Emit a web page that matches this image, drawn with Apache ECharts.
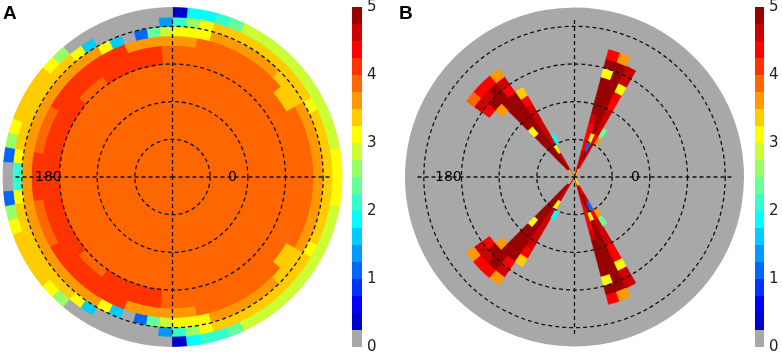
<!DOCTYPE html>
<html>
<head>
<meta charset="utf-8">
<script src="https://cdn.jsdelivr.net/npm/echarts@6/dist/echarts.min.js"></script>
<style>
html,body{margin:0;padding:0;background:#fff;}
#main{width:782px;height:358px;}
</style>
</head>
<body>
<div id="main"></div>
<script>
// colour scale 0..5 in 20 steps (jet), lowest step grey
var levelColors = ['#a8a8a8','#0000cc','#0000ff','#0033ff','#0066ff','#0099ff','#00ccff','#00ffff','#33ffcc','#66ff99',
                   '#99ff66','#ccff33','#ffff00','#ffcc00','#ff9900','#ff6600','#ff3300','#ff0000','#cc0000','#990000'];
var levelStep = 0.25;
var colorbarMax = 5;

// panel A : 72 angle bins (5 deg, counter-clockwise from 0), 18 rings
// rings 0..11 are the same all round
var coreA = [3.9,3.9,3.9,3.9,3.9,3.9,3.9,3.9,3.9,3.9,3.9,3.9];
var ringA12 = [3.9,3.9,3.9,3.9,3.9,3.9,3.9,3.9,3.9,3.9,3.9,3.9,3.9,3.9,3.9,3.9,3.9,3.9,3.9,
  4.1,4.1,4.1,4.1,4.1,4.1,3.9,3.9,3.9,4.1,4.1,4.1,4.1,4.1,4.1,4.1,4.1,
  4.1,4.1,4.1,4.1,4.1,4.1,4.1,4.1,3.9,3.9,3.9,4.1,4.1,4.1,4.1,4.1,4.1,
  3.9,3.9,3.9,3.9,3.9,3.9,3.9,3.9,3.9,3.9,3.9,3.9,3.9,3.9,3.9,3.9,3.9,3.9,3.9];
var ringA13 = [3.9,3.9,3.9,3.9,3.9,3.9,3.9,3.9,3.9,3.9,3.9,3.9,3.9,3.9,3.9,3.9,3.9,3.9,3.9,
  4.1,4.1,4.1,4.1,4.1,4.1,4.1,4.1,4.1,4.1,4.1,4.1,4.1,4.1,4.1,4.1,4.1,
  4.1,4.1,4.1,4.1,4.1,4.1,4.1,4.1,4.1,4.1,4.1,4.1,4.1,4.1,4.1,4.1,4.1,
  3.9,3.9,3.9,3.9,3.9,3.9,3.9,3.9,3.9,3.9,3.9,3.9,3.9,3.9,3.9,3.9,3.9,3.9,3.9];
var ringA14 = [3.9,3.9,3.9,3.9,3.9,3.9,3.4,3.4,3.9,3.9,3.9,3.9,3.9,3.9,3.9,3.9,3.6,3.6,
  3.6,3.6,3.6,3.6,4.1,4.1,4.1,4.1,4.1,4.1,4.1,4.1,3.9,3.9,3.9,3.9,4.1,4.1,
  4.1,4.1,3.9,3.9,3.9,3.9,4.1,4.1,4.1,4.1,4.1,4.1,4.1,4.1,3.6,3.6,3.6,3.6,
  3.6,3.6,3.9,3.9,3.9,3.9,3.9,3.9,3.9,3.9,3.4,3.4,3.9,3.9,3.9,3.9,3.9,3.9];
var ringA15 = [3.6,3.6,3.6,3.6,3.6,3.6,3.4,3.4,3.4,3.6,3.6,3.6,3.6,3.6,3.6,3.1,3.1,3.1,
  2.9,2.4,1.1,0,1.6,3.1,3.6,3.6,3.6,3.6,3.6,3.6,3.6,3.6,3.6,3.6,3.6,3.6,
  3.6,3.6,3.6,3.6,3.6,3.6,3.6,3.6,3.6,3.6,3.6,3.6,3.1,1.6,0,1.1,2.4,2.9,
  3.1,3.1,3.1,3.6,3.6,3.6,3.6,3.6,3.6,3.4,3.4,3.4,3.6,3.6,3.6,3.6,3.6,3.6];
var ringA16 = [3.4,3.4,3.4,3.4,3.4,3.1,3.4,3.4,3.4,3.4,3.4,3.4,3.4,3.4,3.4,3.1,2.6,2.1,
  1.4,0,0,0,0,0,1.6,3.1,3.4,3.4,3.4,3.4,3.4,3.4,3.4,3.4,3.1,2.1,
  2.1,3.1,3.4,3.4,3.4,3.4,3.4,3.4,3.4,3.4,3.1,1.6,0,0,0,0,0,1.4,
  2.1,2.6,3.1,3.4,3.4,3.4,3.4,3.4,3.4,3.4,3.4,3.4,3.1,3.4,3.4,3.4,3.4,3.4];
var ringA17 = [3.1,3.1,2.9,2.9,2.9,2.9,2.9,2.9,2.9,2.9,2.9,2.9,2.9,2.4,2.1,1.9,1.9,0.4,
  0,0,0,0,0,0,0,0,2.6,3.1,3.4,3.4,3.4,3.4,3.1,2.6,1.1,0,
  0,1.1,2.6,3.1,3.4,3.4,3.4,3.4,3.1,2.6,0,0,0,0,0,0,0,0,
  0.4,1.9,2.1,2.1,2.4,2.9,2.9,2.9,2.9,2.9,2.9,2.9,2.9,2.9,2.9,2.9,3.1,3.1];

// panel B : grey (0) everywhere except the cells of the four spokes
// one list of ring values (ring 0 outward) per listed angle bin
var spokeBinsB = [11,12,13,14, 23,24,25,26,27,28, 43,44,45,46,47,48, 57,58,59,60];
var spokeCellsB = [
  [0,0,0,0,3.6,2.4,0,0,0,0,0,0,0,0],
  [3.1,4.4,4.6,4.6,4.4,4.6,4.6,4.6,4.4,4.4,3.1,4.6,4.6,0],
  [3.6,4.9,4.9,1.1,3.1,4.9,4.9,4.9,4.9,4.9,4.9,4.9,4.9,3.6],
  [4.4,4.6,4.6,4.4,4.4,4.4,4.6,4.9,4.9,4.9,4.9,3.1,4.9,4.4],
  [0,0,0,0,1.9,0,0,0,0,0,0,0,0,0],
  [4.6,4.6,4.6,3.1,4.6,4.6,4.6,4.6,4.6,4.4,3.4,0,0,0],
  [2.9,4.9,4.9,4.9,4.9,4.9,4.9,4.9,4.9,4.9,4.9,4.4,4.6,3.6],
  [3.6,4.9,4.9,4.9,4.9,4.9,3.1,4.9,4.9,4.9,4.9,4.9,4.9,4.4],
  [0,0,0,0,0,0,0,0,0,0,3.6,4.9,4.6,4.4],
  [0,0,0,0,0,0,0,0,0,0,0,4.4,4.6,3.9],
  [0,0,0,0,0,0,0,0,0,0,0,4.4,4.6,3.6],
  [0,0,0,0,0,0,0,0,0,0,3.6,4.9,4.6,4.4],
  [3.6,4.9,4.9,4.9,4.9,4.9,3.1,4.9,4.9,4.9,4.9,4.9,4.9,4.4],
  [2.9,4.9,4.9,4.9,4.9,4.9,4.9,4.9,4.9,4.9,4.9,4.4,4.6,3.6],
  [4.6,4.6,4.6,3.1,4.6,4.6,4.6,4.6,4.6,4.4,3.4,0,0,0],
  [0,0,0,0,1.9,0,0,0,0,0,0,0,0,0],
  [4.4,4.6,4.6,4.4,4.4,4.4,4.6,4.9,4.9,4.9,4.9,3.1,4.9,4.4],
  [3.6,4.9,4.9,4.9,3.1,4.9,4.9,4.9,4.9,4.9,4.9,4.9,4.9,3.6],
  [3.1,4.4,4.6,1.1,4.4,4.6,4.6,4.6,4.4,4.4,3.1,4.6,4.6,0],
  [0,0,0,0,3.6,2.4,0,0,0,0,0,0,0,0]
];

var BIN_COUNT = 72, RING_COUNT = 18;
var GREY = levelColors[0];
var dash = {color: '#111', width: 1.3, type: [4, 3]};

function buildPieces() {
  var pieces = [];
  for (var i = 0; i < levelColors.length; i++) {
    var p = {gte: i * levelStep, color: levelColors[i]};
    if (i < levelColors.length - 1) p.lt = (i + 1) * levelStep; else p.lte = (i + 1) * levelStep;
    pieces.push(p);
  }
  return pieces;
}

var dataA = [];
var ringsA = [ringA12, ringA13, ringA14, ringA15, ringA16, ringA17];
for (var b = 0; b < BIN_COUNT; b++) {
  for (var r = 0; r < coreA.length; r++) dataA.push([r, b, coreA[r]]);
  for (var k = 0; k < ringsA.length; k++) dataA.push([coreA.length + k, b, ringsA[k][b]]);
}
var dataB = [];
spokeBinsB.forEach(function (bin, i) {
  spokeCellsB[i].forEach(function (v, ring) {
    if (v > 0) dataB.push([ring, bin, v]);
  });
});

// one cell = sector between ring..ring+1 and bin..bin+1
function renderCell(params, api) {
  var cs = params.coordSys;
  var ring = api.value(0), bin = api.value(1);
  var pIn = api.coord([ring, bin]);
  var pA = api.coord([ring + 1, bin]);
  var pB = api.coord([ring + 1, bin + 1]);
  var r0 = Math.sqrt(Math.pow(pIn[0] - cs.cx, 2) + Math.pow(pIn[1] - cs.cy, 2));
  var r1 = Math.sqrt(Math.pow(pA[0] - cs.cx, 2) + Math.pow(pA[1] - cs.cy, 2));
  var end = Math.atan2(pA[1] - cs.cy, pA[0] - cs.cx);
  var start = Math.atan2(pB[1] - cs.cy, pB[0] - cs.cx);
  while (end < start) end += 2 * Math.PI;
  var color = api.visual('color');
  return {
    type: 'sector',
    shape: {cx: cs.cx, cy: cs.cy, r0: r0, r: r1, startAngle: start, endAngle: end, clockwise: true},
    style: {fill: color, stroke: color, lineWidth: 0.7}
  };
}

var centersX = [172.5, 574.5];
var CY = 177, R_OUT = 169.5, R_GRID = 150.7, R_CROSS = 157;
var hidden = {axisLine: {show: false}, axisTick: {show: false}, axisLabel: {show: false}, splitLine: {show: false}};

var polar = [], angleAxis = [], radiusAxis = [];
centersX.forEach(function (cx, i) {
  var base = i * 3;
  polar.push({center: [cx, CY], radius: [0, R_OUT]});
  polar.push({center: [cx, CY], radius: [0, R_GRID]});
  polar.push({center: [cx, CY], radius: [0, R_CROSS]});
  angleAxis.push(Object.assign({polarIndex: base, type: 'value', min: 0, max: BIN_COUNT, startAngle: 0, clockwise: false,
    splitArea: {show: true, areaStyle: {color: [GREY]}}}, hidden));
  radiusAxis.push(Object.assign({polarIndex: base, type: 'value', min: 0, max: RING_COUNT}, hidden));
  angleAxis.push(Object.assign({polarIndex: base + 1, type: 'value', min: 0, max: 360}, hidden));
  radiusAxis.push(Object.assign({polarIndex: base + 1, type: 'value', min: 0, max: 4, interval: 1, z: 10}, hidden,
    {splitLine: {show: true, lineStyle: dash}}));
  angleAxis.push(Object.assign({polarIndex: base + 2, type: 'value', min: 0, max: 360, interval: 90, startAngle: 0,
    clockwise: false, z: 10}, hidden, {splitLine: {show: true, lineStyle: dash}}));
  radiusAxis.push(Object.assign({polarIndex: base + 2, type: 'value', min: 0, max: 1}, hidden));
});

var barLeft = [352, 755], barWidth = [10, 9];
var option = {
  animation: false,
  backgroundColor: '#fff',
  polar: polar,
  angleAxis: angleAxis,
  radiusAxis: radiusAxis,
  grid: [
    {left: barLeft[0], top: 7, width: barWidth[0], height: 340},
    {left: barLeft[1], top: 7, width: barWidth[1], height: 340}
  ],
  xAxis: [
    {gridIndex: 0, type: 'category', data: [''], show: false},
    {gridIndex: 1, type: 'category', data: [''], show: false}
  ],
  yAxis: [0, 1].map(function (g) {
    return {gridIndex: g, type: 'value', min: 0, max: colorbarMax, interval: 1, position: 'right',
      axisLine: {show: false}, axisTick: {show: false}, splitLine: {show: false},
      axisLabel: {margin: 5, fontSize: 15, color: '#222', fontFamily: 'DejaVu Sans'}};
  }),
  visualMap: [0, 1].map(function (i) {
    return {type: 'piecewise', seriesIndex: i, dimension: 2, pieces: buildPieces(), orient: 'vertical',
      left: barLeft[i], top: 7, padding: 0, itemWidth: barWidth[i], itemHeight: 17, itemGap: 0,
      itemSymbol: 'rect', showLabel: false, hoverLink: false, selectedMode: false};
  }),
  series: [
    {type: 'custom', coordinateSystem: 'polar', polarIndex: 0, renderItem: renderCell, data: dataA, z: 2, silent: true},
    {type: 'custom', coordinateSystem: 'polar', polarIndex: 3, renderItem: renderCell, data: dataB, z: 2, silent: true}
  ],
  graphic: [
    {type: 'text', x: 3, y: 4, z: 100, style: {text: 'A', font: 'bold 19px "Liberation Sans", Arial, sans-serif', fill: '#000'}},
    {type: 'text', x: 399, y: 4, z: 100, style: {text: 'B', font: 'bold 19px "Liberation Sans", Arial, sans-serif', fill: '#000'}},
    {type: 'text', x: 35, y: CY, z: 100, style: {text: '180', font: '14px "DejaVu Sans"', fill: '#000', verticalAlign: 'middle'}},
    {type: 'text', x: 228, y: CY, z: 100, style: {text: '0', font: '14px "DejaVu Sans"', fill: '#000', verticalAlign: 'middle'}},
    {type: 'text', x: 435, y: CY, z: 100, style: {text: '180', font: '14px "DejaVu Sans"', fill: '#000', verticalAlign: 'middle'}},
    {type: 'text', x: 631, y: CY, z: 100, style: {text: '0', font: '14px "DejaVu Sans"', fill: '#000', verticalAlign: 'middle'}}
  ]
};

var chart = echarts.init(document.getElementById('main'));
chart.setOption(option);
</script>
</body>
</html>
